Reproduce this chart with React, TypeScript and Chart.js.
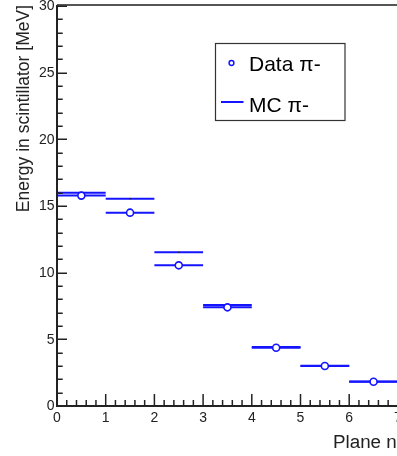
import React, { useEffect, useRef } from "react";
import { Chart, registerables } from "chart.js";

Chart.register(...registerables);

const planes = [0, 1, 2, 3, 4, 5, 6];
const dataValues = [15.78, 14.5, 10.55, 7.4, 4.37, 3.0, 1.82];
const mcValues = [16.0, 15.55, 11.53, 7.58, 4.42, 3.02, 1.84];
const yTickLabels = ["0", "5", "10", "15", "20", "25", "30"];
const xTickLabels = ["0", "1", "2", "3", "4", "5", "6", "7", "8"];
const yTitle = "Energy in scintillator [MeV]";
const xTitle = "Plane number";
const legendData = "Data \u03c0-";
const legendMC = "MC \u03c0-";

const BLUE = "rgb(20,20,255)";
const FONT = "'Liberation Sans', Arial, Helvetica, sans-serif";

const segments = (vals: number[]) =>
  planes.flatMap((p, i) => [
    { x: p, y: vals[i] },
    { x: p + 1, y: vals[i] },
    { x: p + 1, y: null as any },
  ]);
const centers = (vals: number[]) => planes.map((p, i) => ({ x: p + 0.5, y: vals[i] }));

const framePlugin = {
  id: "rootFrame",
  afterDatasetsDraw(chart: any) {
    const { ctx, chartArea, scales } = chart;
    const xs = scales.x;
    const ys = scales.y;
    const L = chartArea.left;
    const B = chartArea.bottom;
    const T = chartArea.top;
    const R = chartArea.right;
    ctx.save();
    // frame
    ctx.strokeStyle = "#555";
    ctx.lineWidth = 2;
    ctx.beginPath();
    ctx.moveTo(L, T - 1);
    ctx.lineTo(R, T - 1);
    ctx.stroke();
    ctx.strokeStyle = "#222";
    ctx.beginPath();
    ctx.moveTo(L, T - 1);
    ctx.lineTo(L, B);
    ctx.lineTo(R, B);
    ctx.stroke();
    // y ticks
    ctx.lineWidth = 1.5;
    for (let v = 0; v <= 30; v += 1) {
      const y = Math.round(ys.getPixelForValue(v)) + 0.25;
      const len = v % 5 === 0 ? 10 : 5.7;
      ctx.beginPath();
      ctx.moveTo(L, y);
      ctx.lineTo(L + len, y);
      ctx.stroke();
    }
    // x ticks
    for (let k = 0; k <= 40; k++) {
      const v = k * 0.2;
      const x = xs.getPixelForValue(v);
      const len = k % 5 === 0 ? 12 : 6;
      ctx.beginPath();
      ctx.moveTo(x, B);
      ctx.lineTo(x, B - len);
      ctx.stroke();
    }
    // tick labels
    ctx.fillStyle = "#222";
    ctx.font = `14px ${FONT}`;
    ctx.textAlign = "right";
    ctx.textBaseline = "middle";
    yTickLabels.forEach((t) => {
      ctx.fillText(t, L - 2.5, ys.getPixelForValue(Number(t)) + 0.5);
    });
    ctx.textAlign = "center";
    xTickLabels.forEach((t) => {
      ctx.fillText(t, xs.getPixelForValue(Number(t)), B + 12.5);
    });
    // axis titles
    ctx.textBaseline = "alphabetic";
    ctx.textAlign = "left";
    ctx.font = `18.8px ${FONT}`;
    ctx.fillText(xTitle, 333, 448);
    ctx.font = `17.5px ${FONT}`;
    ctx.save();
    ctx.translate(29, 5);
    ctx.rotate(-Math.PI / 2);
    ctx.textAlign = "right";
    ctx.fillText(yTitle, 0, 0);
    ctx.restore();
    // legend
    ctx.strokeStyle = "#333";
    ctx.lineWidth = 1.2;
    ctx.strokeRect(215.5, 43.5, 129.5, 77);
    ctx.strokeStyle = BLUE;
    ctx.lineWidth = 1.5;
    ctx.beginPath();
    ctx.arc(231.5, 63, 2.4, 0, Math.PI * 2);
    ctx.stroke();
    ctx.lineWidth = 2;
    ctx.beginPath();
    ctx.moveTo(221, 102);
    ctx.lineTo(243.5, 102);
    ctx.stroke();
    ctx.fillStyle = "#000";
    ctx.font = `21px ${FONT}`;
    ctx.textAlign = "left";
    ctx.fillText(legendData, 249, 71);
    ctx.fillText(legendMC, 249, 111.5);
    ctx.restore();
  },
};

export default function App() {
  const ref = useRef<HTMLCanvasElement | null>(null);
  useEffect(() => {
    if (!ref.current) return;
    const chart = new Chart(ref.current, {
      type: "scatter",
      data: {
        datasets: [
          {
            label: "Data markers",
            data: centers(dataValues),
            showLine: false,
            pointRadius: 3.5,
            pointBorderWidth: 1.6,
            pointBorderColor: BLUE,
            pointBackgroundColor: "#fff",
          },
          {
            label: "Data",
            data: segments(dataValues),
            showLine: true,
            spanGaps: false,
            borderColor: BLUE,
            borderWidth: 2,
            pointRadius: 0,
          },
          {
            label: "MC centers",
            data: centers(mcValues),
            showLine: false,
            pointRadius: 0.8,
            pointBorderWidth: 0,
            pointBackgroundColor: "#222",
          },
          {
            label: "MC",
            data: segments(mcValues),
            showLine: true,
            spanGaps: false,
            borderColor: BLUE,
            borderWidth: 2,
            pointRadius: 0,
          },
        ],
      } as any,
      options: {
        animation: false,
        responsive: false,
        devicePixelRatio: 1,
        layout: { padding: { left: 57, top: 6, right: 480 - 446.6, bottom: 50 } },
        plugins: { legend: { display: false }, tooltip: { enabled: false } },
        scales: {
          x: { type: "linear", min: 0, max: 8, display: false },
          y: { type: "linear", min: 0, max: 30, display: false },
        },
      } as any,
      plugins: [framePlugin],
    });
    return () => chart.destroy();
  }, []);
  return (
    <div
      style={{
        position: "fixed",
        left: 0,
        top: 0,
        width: 397,
        height: 456,
        overflow: "hidden",
        background: "#fff",
      }}
    >
      <canvas ref={ref} width={480} height={456} style={{ display: "block" }} />
    </div>
  );
}
